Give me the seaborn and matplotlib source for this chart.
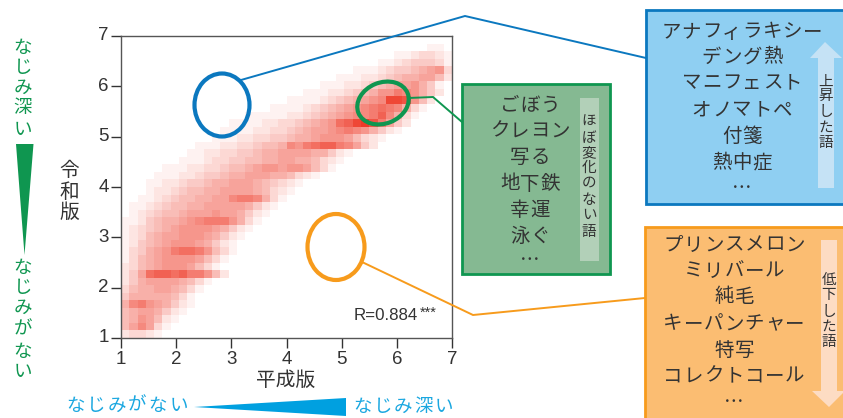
import numpy as np
import pandas as pd
import seaborn as sns
import matplotlib
matplotlib.use("Agg")
import matplotlib.pyplot as plt
from matplotlib.colors import LinearSegmentedColormap
from matplotlib.patches import Rectangle, Ellipse, Polygon

# density: 40x40 bins, first row = top (令和版 7), column 0 = 平成版 1.
# band_start = first non-empty column of a row, band_values = its cell values (hex 0..f)
band_start = [0, 37, 33, 31, 28, 26, 24, 22, 20, 18, 15, 13, 12, 11, 9, 8, 7, 5, 4, 3,
              3, 2, 1, 1, 0, 0, 0, 0, 0, 0, 0, 0, 0, 0, 0, 0, 0, 0, 0, 0]
band_values = [
"0", "11", "1123321", "112344431", "111234456783", "11122345667752",
"111223456778641", "11122345688a98642", "111123456789eed852",
"111123456789aba9631", "111112234567899ac9631", "1111223345678bcefda742",
"111122334567789a986421", "111223344566788875321", "1112233455698abcca9742",
"11223344566777766421", "11123344556677665321", "111223345567887887531",
"11122344566777665321", "1122344566777654321", "122345566777765321",
"112345566779aa9631", "112345566777776421", "12345567778776421",
"1124566789aaa8631", "1234567888876421", "123567788876421", "12456788876421",
"134678abba8531", "1356788887531", "235678887531", "247bccbcaa852",
"24677776531", "3566776531", "466666531", "69a876421", "56776421",
"5687521", "579731", "23321",
]
tick_values = [1, 2, 3, 4, 5, 6, 7]
x_label = "平成版"
y_label = "令和版"
r_text = "R=0.884"
rising_words = ["アナフィラキシー", "デング熱", "マニフェスト", "オノマトペ", "付箋", "熱中症", "…"]
stable_words = ["ごぼう", "クレヨン", "写る", "地下鉄", "幸運", "泳ぐ", "…"]
falling_words = ["プリンスメロン", "ミリバール", "純毛", "キーパンチャー", "特写", "コレクトコール", "…"]

sns.set_theme(style="ticks")
plt.rcParams["font.family"] = ["Noto Sans CJK JP", "DejaVu Sans"]
W, H = 843, 418
fig = plt.figure(figsize=(W / 100, H / 100), dpi=100, facecolor="white")
ax = fig.add_axes([121 / W, 1 - 338 / H, 331 / W, 302 / H])

n = len(band_values)
density = np.zeros((n, n))
for r, (s0, vals) in enumerate(zip(band_start, band_values)):
    for k, c in enumerate(vals):
        density[r, s0 + k] = int(c, 16)
cmap = LinearSegmentedColormap.from_list("r", ["#ffffff", "#ee3a28"])
sns.heatmap(pd.DataFrame(density), ax=ax, cmap=cmap, vmin=0, vmax=15, cbar=False, square=False)

step = 6 / n
ax.set_xticks([(v - 1) / step for v in tick_values])
ax.set_yticks([(7 - v) / step for v in tick_values])
ax.set_xticklabels(tick_values, rotation=0, family="Liberation Sans", fontsize=13.5, color="#333333")
ax.set_yticklabels(tick_values, rotation=0, family="Liberation Sans", fontsize=13.5, color="#333333")
ax.tick_params(length=7, width=1, color="#333333", pad=2)
ax.set_xlabel("")
ax.set_ylabel("")
for s in ax.spines.values():
    s.set_visible(True)
    s.set_color("#555555")
    s.set_linewidth(1)

ov = fig.add_axes([0, 0, 1, 1], zorder=5)
ov.set_xlim(0, W)
ov.set_ylim(H, 0)
ov.axis("off")
ov.patch.set_alpha(0)

BLUE, GREEN, ORANGE = "#0b78bf", "#0f9650", "#f79b1c"
TXT = "#333333"

def box(x0, y0, x1, y1, face, edge):
    ov.add_patch(Rectangle((x0, y0), x1 - x0, y1 - y0, facecolor=face, edgecolor=edge, lw=2))

box(462, 84, 610, 274, "#85b992", GREEN)
box(646, 10, 846, 204, "#8fcff2", BLUE)
box(645, 227, 846, 422, "#fbbd72", ORANGE)

ov.add_patch(Rectangle((580, 98), 19, 163, facecolor="#b2d0b8", edgecolor="none"))
ov.add_patch(Polygon([(825, 42), (842, 58), (834, 58), (834, 188), (818, 188), (818, 58), (810, 58)],
                     facecolor="#c5e2f5", edgecolor="none"))
ov.add_patch(Polygon([(821, 240), (837, 240), (837, 391), (845, 391), (829, 407), (812, 391), (821, 391)],
                     facecolor="#fddcc3", edgecolor="none"))

for pts, c in [([(241, 80), (465, 16), (646, 58)], BLUE),
               ([(408, 98), (433, 97), (462, 122)], GREEN),
               ([(362, 262), (473, 315), (645, 298)], ORANGE)]:
    xs, ys = zip(*pts)
    ov.plot(xs, ys, color=c, lw=1.4, solid_joinstyle="miter")

ov.add_patch(Ellipse((222, 105), 55, 63, angle=0, fill=False, edgecolor=BLUE, lw=3))
ov.add_patch(Ellipse((383, 103), 53, 41, angle=-22, fill=False, edgecolor=GREEN, lw=3))
ov.add_patch(Ellipse((336, 247), 57, 66, angle=0, fill=False, edgecolor=ORANGE, lw=3))

def spaced(word, xc, y, adv, size, color):
    x0 = xc - adv * (len(word) - 1) / 2
    for i, ch in enumerate(word):
        ov.text(x0 + i * adv, y, ch, ha="center", va="center", fontsize=size, color=color)

def word_list(words, xc, ys):
    for w, y in zip(words, ys):
        spaced(w, xc, y, 20.3, 14, TXT)

word_list(rising_words, 742, [32, 57, 83, 110, 136, 163, 188])
word_list(stable_words, 530, [105, 131, 157, 184, 210, 236, 260])
word_list(falling_words, 734, [245, 271, 297, 324, 350, 376, 402])

def stacked(text, x, ys, size, color):
    for ch, y in zip(text, ys):
        ov.text(x, y, ch, ha="center", va="center", fontsize=size, color=color)

stacked("上昇した語", 826, [82, 96, 112, 128, 143], 10.5, TXT)
stacked("ほぼ変化のない語", 589, [122, 138, 153, 168, 183, 200, 215, 232], 10.5, TXT)
stacked("低下した語", 829, [280, 295, 312, 327, 342], 10.5, TXT)

stacked(y_label, 69, [170, 192, 212], 14.2, TXT)
ov.text(286, 380, x_label, ha="center", va="center", fontsize=14.2, color=TXT)

stacked("なじみ深い", 23, [48, 68, 88, 108, 130], 13.3, GREEN)
stacked("なじみがない", 23, [268, 288, 308, 330, 352, 372], 13.3, GREEN)
ov.add_patch(Polygon([(16, 144), (33.5, 144), (24.5, 255)], facecolor=GREEN, edgecolor="none"))

SKY = "#1aa7e0"
spaced("なじみがない", 127, 406, 20.6, 13.3, SKY)
spaced("なじみ深い", 403, 407, 20.2, 13.3, SKY)
ov.add_patch(Polygon([(194, 407), (346, 398), (346, 416)], facecolor="#00a0e0", edgecolor="none"))

ov.text(354, 316, r_text, ha="left", va="center", family="Liberation Sans", fontsize=12.2, color=TXT)
ov.text(420, 313, "***", ha="left", va="center", family="Liberation Sans", fontsize=10.5, color=TXT)

fig.savefig("out.png", dpi=100)
